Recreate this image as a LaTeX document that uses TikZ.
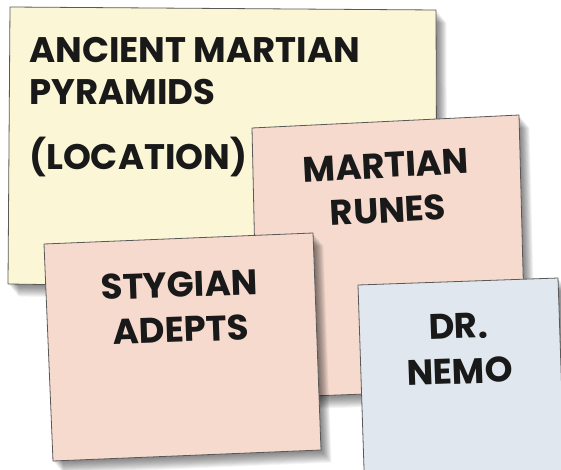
\documentclass[tikz,border=0pt]{standalone}
\usepackage{fontspec}
\newfontfamily\hand{Poppins}
\definecolor{noteyellow}{RGB}{250,246,214}
\definecolor{notepink}{RGB}{246,218,206}
\definecolor{noteblue}{RGB}{225,231,238}
\tikzset{
  notebox/.style={draw=black!65, line width=0.8pt, line join=round},
  lbl/.style={font=\hand\bfseries\fontsize{35.5}{45}\selectfont, inner sep=0pt, align=center, text=black!90},
}
\newcommand\notesh[1]{\foreach \i in {1,...,14}{\fill[black, opacity=0.045, shift={(\i*0.75,\i*0.9)}] #1;}}
\begin{document}
\begin{tikzpicture}[x=1pt,y=-1pt]
\useasboundingbox (0,0) rectangle (561,470);
% yellow note
\notesh{(10,7) -- (436,10) -- (437,290) -- (8,284) -- cycle}
\path[notebox, fill=noteyellow] (10,7) -- (436,10) -- (437,290) -- (8,284) -- cycle;
\node[lbl, anchor=base west] (t1) at (29,63) {ANCIENT MARTIAN};
\node[lbl, anchor=base west] (t2) at (29,105) {PYRAMIDS};
\node[lbl, anchor=base west] (t3) at (29,170) {(LOCATION)};
% martian runes
\notesh{(252,128) -- (519,115) -- (526,388) -- (258,398) -- cycle}
\path[notebox, fill=notepink] (252,128) -- (519,115) -- (526,388) -- (258,398) -- cycle;
\node[lbl, rotate=3] (runes) at (387,188) {MARTIAN\\RUNES};
% stygian adepts
\notesh{(44,244) -- (313,233) -- (321,450) -- (53,461) -- cycle}
\path[notebox, fill=notepink] (44,244) -- (313,233) -- (321,450) -- (53,461) -- cycle;
\node[lbl, rotate=2] (styg) at (180,307) {STYGIAN\\ADEPTS};
% dr nemo
\notesh{(358,285) -- (558,278) -- (566,520) -- (366,530) -- cycle}
\path[notebox, fill=noteblue] (358,285) -- (558,278) -- (566,520) -- (366,530) -- cycle;
\node[lbl, rotate=2] (nemo) at (459,349) {DR.\\NEMO};
\end{tikzpicture}
\end{document}
